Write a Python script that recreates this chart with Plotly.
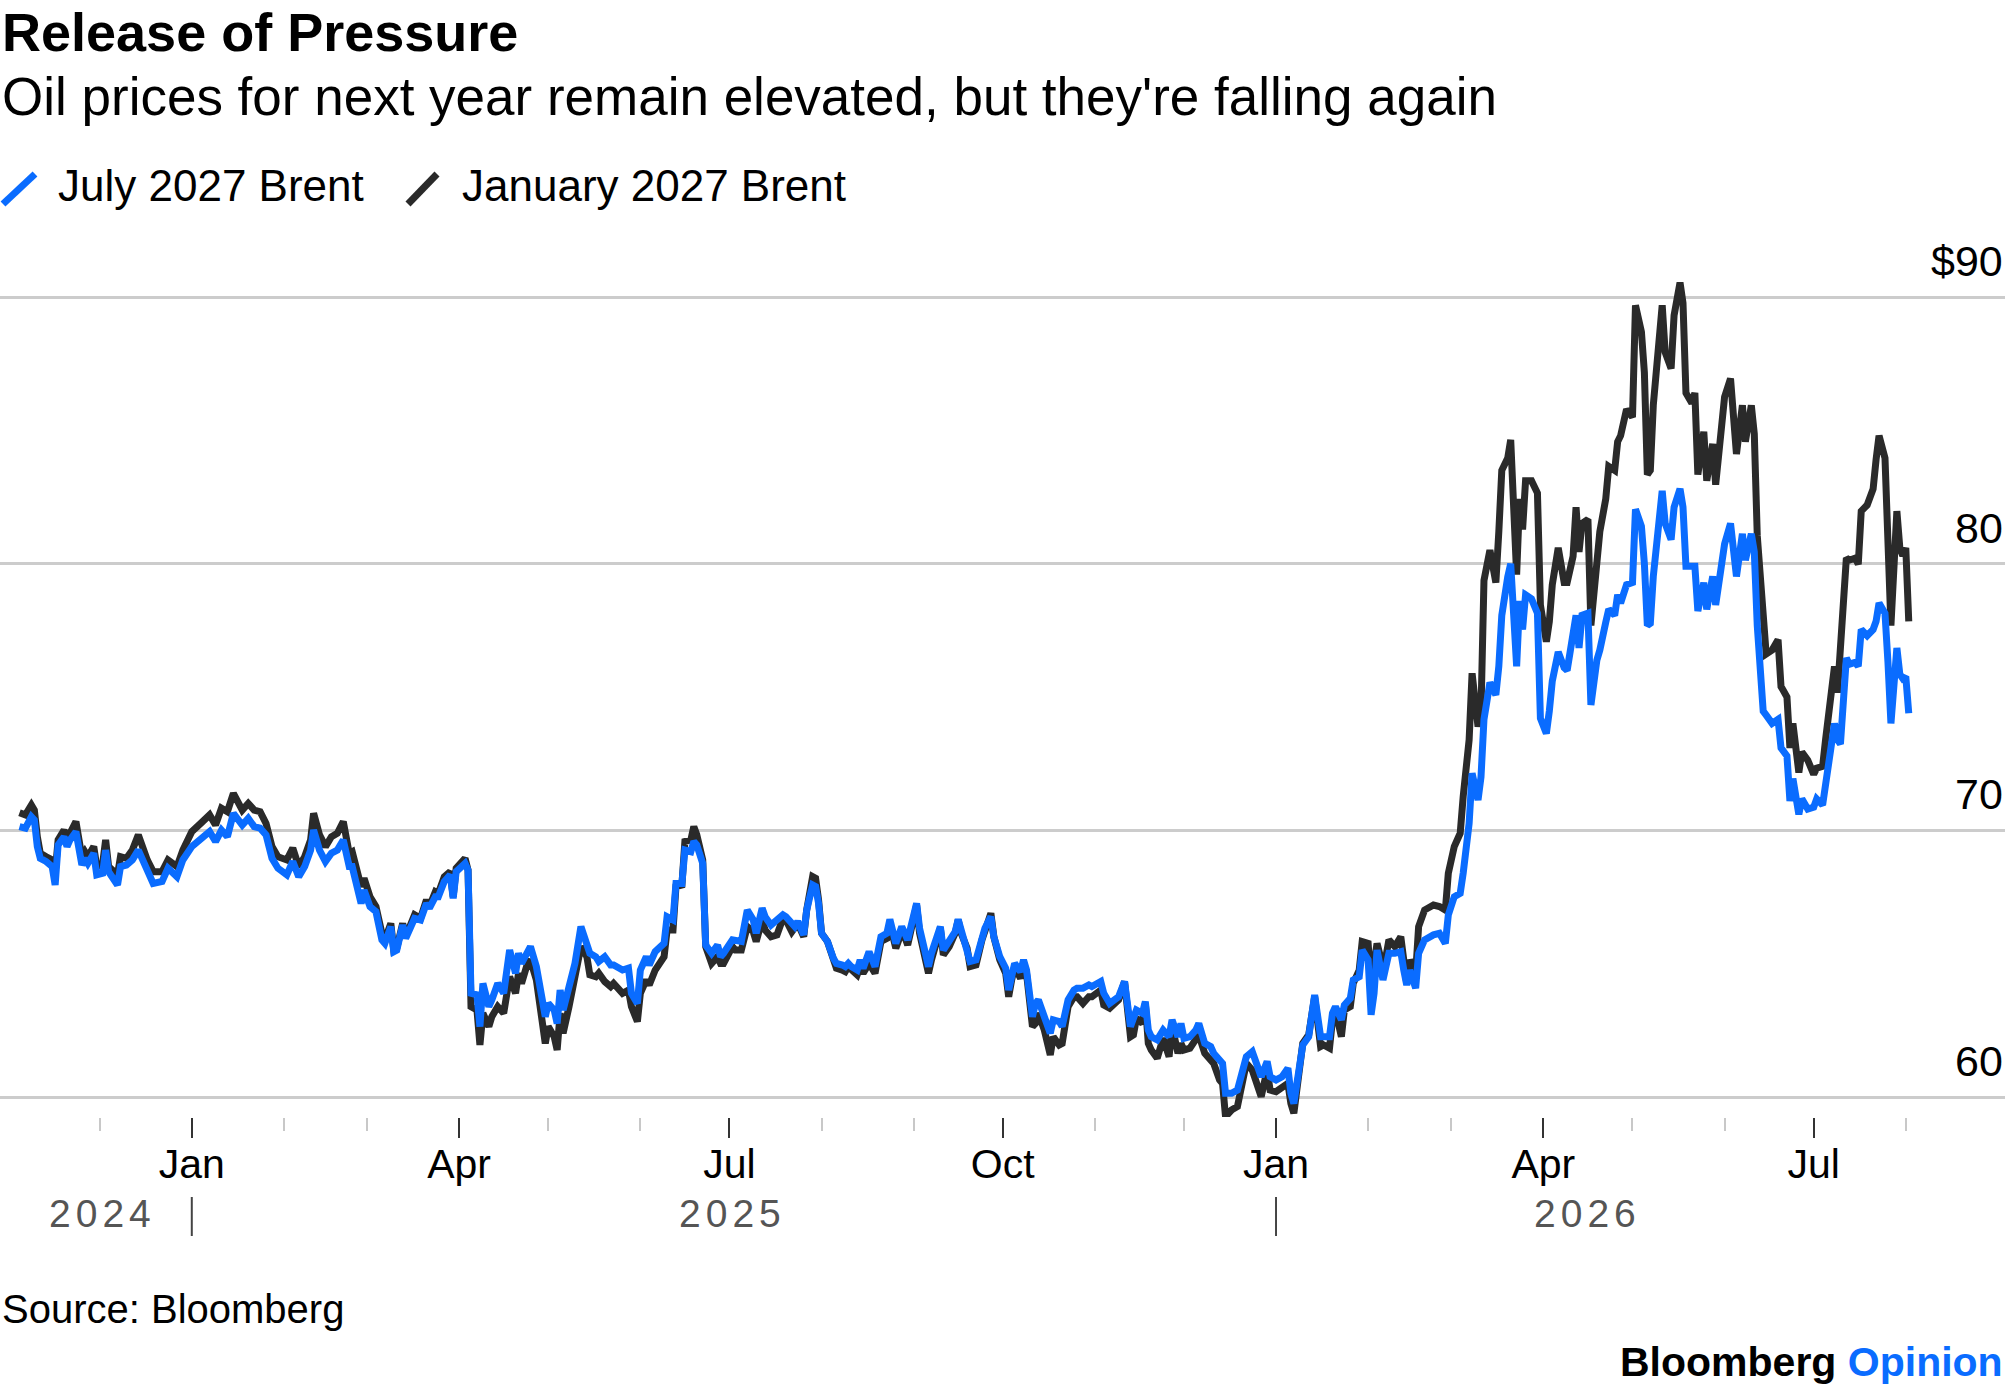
import plotly.graph_objects as go

# ---------------- data ----------------
dates = [
    "2024-11-04", "2024-11-06", "2024-11-08", "2024-11-09", "2024-11-10", "2024-11-11", "2024-11-13",
    "2024-11-15", "2024-11-16", "2024-11-17", "2024-11-19", "2024-11-20", "2024-11-21", "2024-11-23",
    "2024-11-25", "2024-11-26", "2024-11-27", "2024-11-29", "2024-11-30",
    "2024-12-02", "2024-12-03", "2024-12-04", "2024-12-07", "2024-12-08", "2024-12-10", "2024-12-12",
    "2024-12-14", "2024-12-15", "2024-12-17", "2024-12-19", "2024-12-22", "2024-12-24", "2024-12-27",
    "2024-12-29",
    "2025-01-01", "2025-01-04", "2025-01-07", "2025-01-09", "2025-01-11", "2025-01-13", "2025-01-15",
    "2025-01-18", "2025-01-20", "2025-01-22", "2025-01-24", "2025-01-26", "2025-01-28", "2025-01-30",
    "2025-02-02", "2025-02-04", "2025-02-06", "2025-02-08", "2025-02-10", "2025-02-11", "2025-02-13",
    "2025-02-15", "2025-02-17", "2025-02-19", "2025-02-21", "2025-02-23", "2025-02-24", "2025-02-27",
    "2025-02-28",
    "2025-03-02", "2025-03-04", "2025-03-06", "2025-03-07", "2025-03-09", "2025-03-10", "2025-03-11",
    "2025-03-13", "2025-03-14", "2025-03-17", "2025-03-19", "2025-03-21", "2025-03-22", "2025-03-24",
    "2025-03-25", "2025-03-27", "2025-03-29", "2025-03-30", "2025-03-31",
    "2025-04-02", "2025-04-03", "2025-04-04", "2025-04-05", "2025-04-07", "2025-04-08", "2025-04-09",
    "2025-04-11", "2025-04-12", "2025-04-14", "2025-04-16", "2025-04-18", "2025-04-20", "2025-04-21",
    "2025-04-22", "2025-04-24", "2025-04-25", "2025-04-27", "2025-04-30",
    "2025-05-01", "2025-05-03", "2025-05-04", "2025-05-05", "2025-05-06", "2025-05-08", "2025-05-10",
    "2025-05-12", "2025-05-14", "2025-05-15", "2025-05-17", "2025-05-18", "2025-05-20", "2025-05-22",
    "2025-05-23", "2025-05-26", "2025-05-28", "2025-05-29", "2025-05-31",
    "2025-06-01", "2025-06-03", "2025-06-04", "2025-06-06", "2025-06-08", "2025-06-09", "2025-06-10",
    "2025-06-12", "2025-06-13", "2025-06-15", "2025-06-16", "2025-06-18", "2025-06-19", "2025-06-20",
    "2025-06-22", "2025-06-23", "2025-06-25", "2025-06-27", "2025-06-28", "2025-06-29",
    "2025-07-02", "2025-07-03", "2025-07-05", "2025-07-07", "2025-07-09", "2025-07-10", "2025-07-12",
    "2025-07-13", "2025-07-15", "2025-07-17", "2025-07-19", "2025-07-20", "2025-07-22", "2025-07-23",
    "2025-07-24", "2025-07-26", "2025-07-27", "2025-07-29", "2025-07-30", "2025-07-31",
    "2025-08-01", "2025-08-03", "2025-08-05", "2025-08-06", "2025-08-08", "2025-08-09", "2025-08-10",
    "2025-08-11", "2025-08-13", "2025-08-14", "2025-08-15", "2025-08-17", "2025-08-19", "2025-08-21",
    "2025-08-23", "2025-08-24", "2025-08-26", "2025-08-27", "2025-08-28", "2025-08-30", "2025-08-31",
    "2025-09-02", "2025-09-03", "2025-09-06", "2025-09-07", "2025-09-09", "2025-09-10", "2025-09-11",
    "2025-09-13", "2025-09-15", "2025-09-16", "2025-09-17", "2025-09-19", "2025-09-20", "2025-09-22",
    "2025-09-24", "2025-09-25", "2025-09-27", "2025-09-28", "2025-09-30",
    "2025-10-02", "2025-10-03", "2025-10-04", "2025-10-05", "2025-10-07", "2025-10-08", "2025-10-09",
    "2025-10-11", "2025-10-12", "2025-10-13", "2025-10-15", "2025-10-17", "2025-10-18", "2025-10-20",
    "2025-10-21", "2025-10-23", "2025-10-25", "2025-10-26", "2025-10-28", "2025-10-30", "2025-10-31",
    "2025-11-03", "2025-11-04", "2025-11-06", "2025-11-09", "2025-11-11", "2025-11-13", "2025-11-14",
    "2025-11-15", "2025-11-17", "2025-11-18", "2025-11-19", "2025-11-20", "2025-11-22", "2025-11-24",
    "2025-11-26", "2025-11-27", "2025-11-29", "2025-11-30",
    "2025-12-01", "2025-12-03", "2025-12-05", "2025-12-06", "2025-12-08", "2025-12-10", "2025-12-11",
    "2025-12-13", "2025-12-14", "2025-12-15", "2025-12-17", "2025-12-19", "2025-12-20", "2025-12-22",
    "2025-12-24", "2025-12-26", "2025-12-27", "2025-12-29", "2025-12-30",
    "2026-01-01", "2026-01-03", "2026-01-05", "2026-01-06", "2026-01-07", "2026-01-09", "2026-01-10",
    "2026-01-12", "2026-01-14", "2026-01-16", "2026-01-17", "2026-01-19", "2026-01-20", "2026-01-21",
    "2026-01-23", "2026-01-24", "2026-01-26", "2026-01-27", "2026-01-29", "2026-01-30",
    "2026-02-01", "2026-02-02", "2026-02-03", "2026-02-04", "2026-02-06", "2026-02-07", "2026-02-08",
    "2026-02-10", "2026-02-12", "2026-02-13", "2026-02-14", "2026-02-15", "2026-02-17", "2026-02-18",
    "2026-02-20", "2026-02-23", "2026-02-25", "2026-02-27", "2026-02-28",
    "2026-03-02", "2026-03-04", "2026-03-05", "2026-03-07", "2026-03-08", "2026-03-10", "2026-03-11",
    "2026-03-12", "2026-03-14", "2026-03-16", "2026-03-17", "2026-03-18", "2026-03-20", "2026-03-21",
    "2026-03-23", "2026-03-24", "2026-03-25", "2026-03-26", "2026-03-28", "2026-03-30", "2026-03-31",
    "2026-04-02", "2026-04-03", "2026-04-04", "2026-04-06", "2026-04-08", "2026-04-09", "2026-04-11",
    "2026-04-12", "2026-04-13", "2026-04-14", "2026-04-16", "2026-04-17", "2026-04-19", "2026-04-20",
    "2026-04-22", "2026-04-23", "2026-04-25", "2026-04-26", "2026-04-27", "2026-04-29",
    "2026-05-01", "2026-05-02", "2026-05-04", "2026-05-05", "2026-05-06", "2026-05-07", "2026-05-08",
    "2026-05-10", "2026-05-11", "2026-05-12", "2026-05-14", "2026-05-15", "2026-05-17", "2026-05-18",
    "2026-05-19", "2026-05-21", "2026-05-22", "2026-05-23", "2026-05-25", "2026-05-26", "2026-05-28",
    "2026-05-29", "2026-05-31",
    "2026-06-01", "2026-06-03", "2026-06-04", "2026-06-05", "2026-06-07", "2026-06-08", "2026-06-10",
    "2026-06-11", "2026-06-12", "2026-06-14", "2026-06-15", "2026-06-17", "2026-06-19", "2026-06-20",
    "2026-06-22", "2026-06-23", "2026-06-24", "2026-06-26", "2026-06-27", "2026-06-29",
    "2026-07-01", "2026-07-02", "2026-07-04", "2026-07-05", "2026-07-08", "2026-07-09", "2026-07-10",
    "2026-07-12", "2026-07-13", "2026-07-15", "2026-07-16", "2026-07-17", "2026-07-19", "2026-07-21",
    "2026-07-22", "2026-07-23", "2026-07-25", "2026-07-26", "2026-07-27", "2026-07-29", "2026-07-30",
    "2026-07-31", "2026-08-01", "2026-08-02",
]

jan_2027_brent = [
    70.66, 70.58, 70.95, 70.76, 69.76, 69.14, 69.01,
    68.89, 68.39, 69.64, 70.01, 69.70, 69.89, 70.33,
    69.01, 69.20, 69.01, 69.39, 68.64,
    68.76, 69.64, 68.64, 68.33, 69.01, 68.95, 69.26,
    69.83, 69.51, 68.89, 68.45, 68.45, 68.89, 68.64,
    69.26,
    69.95, 70.26, 70.58, 70.20, 70.83, 70.70, 71.39,
    70.76, 71.01, 70.76, 70.70, 70.26, 69.39, 69.01,
    68.89, 69.33, 68.64, 69.01, 69.64, 70.64, 69.83,
    69.39, 69.76, 69.89, 70.33, 69.14, 69.20, 67.89,
    68.20,
    67.51, 67.14, 66.14, 65.89, 66.51, 65.51, 65.58,
    66.51, 66.01, 66.83, 66.70, 67.39, 67.14, 67.70,
    67.64, 68.26, 68.45, 67.51, 68.58,
    68.83, 68.95, 68.51, 63.39, 63.26, 61.95, 63.14,
    62.64, 63.01, 63.39, 63.14, 64.51, 63.89, 64.64,
    64.26, 65.01, 65.14, 64.39, 62.01,
    62.64, 62.26, 61.76, 63.14, 62.39, 63.39, 64.39,
    65.64, 65.26, 64.58, 64.51, 64.64, 64.33, 64.14,
    64.26, 63.89, 64.01, 63.39, 62.83,
    63.89, 64.39, 64.20, 64.76, 65.14, 65.26, 66.26,
    66.26, 67.89, 67.95, 69.58, 69.64, 70.14, 69.83,
    68.89, 65.64, 65.01, 65.26, 65.01, 65.01,
    65.64, 65.51, 65.51, 66.39, 66.20, 65.83, 66.64,
    66.26, 66.01, 66.08, 66.70, 66.64, 66.20, 66.33,
    66.51, 66.01, 67.01, 68.26, 68.20, 67.39,
    66.14, 65.83, 65.14, 64.83, 64.76, 64.70, 64.89,
    64.76, 64.58, 64.89, 64.64, 65.01, 64.64, 65.83,
    65.95, 66.51, 65.58, 65.89, 66.33, 65.70, 66.26,
    67.20, 66.14, 64.64, 65.14, 65.83, 66.33, 65.33,
    65.64, 66.14, 66.64, 66.14, 65.58, 64.89, 64.95,
    65.89, 66.20, 66.89, 66.01, 65.14,
    64.64, 63.76, 64.39, 64.89, 64.45, 65.01, 64.64,
    62.64, 62.76, 63.14, 62.51, 61.58, 62.26, 61.95,
    62.01, 63.39, 63.76, 63.76, 63.51, 63.76, 63.76,
    64.01, 63.45, 63.33, 63.64, 64.33, 62.26, 62.33,
    62.95, 62.76, 63.51, 62.01, 61.76, 61.45, 62.20,
    61.51, 62.64, 61.64, 62.01,
    61.76, 61.83, 62.14, 62.33, 61.64, 61.39, 61.26,
    60.64, 60.51, 59.26, 59.51, 59.64, 60.14, 61.26,
    61.01, 60.39, 60.01, 61.01, 60.26,
    60.20, 60.33, 60.51, 59.76, 59.39, 61.14, 62.01,
    62.33, 63.76, 61.89, 61.95, 61.83, 62.89, 63.26,
    62.26, 63.26, 63.39, 64.26, 64.76, 65.83,
    65.76, 64.26, 64.89, 65.76, 64.89, 65.26, 65.89,
    65.64, 66.01, 65.14, 64.26, 65.14, 64.64, 66.39,
    67.01, 67.20, 67.14, 67.01, 68.39,
    69.39, 69.89, 71.26, 73.39, 75.89, 73.89, 74.50,
    79.37, 80.51, 79.29, 81.20, 83.50, 83.96, 84.64,
    79.59, 82.43, 81.28, 83.11, 83.11, 82.65, 78.45,
    77.07, 77.83, 79.21, 80.59, 79.29, 79.29, 80.28,
    82.12, 80.44, 81.51, 81.66, 77.68, 79.98, 81.20,
    82.43, 83.65, 83.50, 84.57, 84.80, 85.79,
    85.49, 89.69, 88.70, 87.17, 83.34, 83.50, 85.94,
    88.24, 89.69, 87.93, 87.32, 89.31, 90.54, 89.77,
    86.40, 86.02, 86.40, 83.34, 84.95, 83.11, 84.49,
    82.96, 85.03,
    86.25, 86.94, 85.18, 84.11, 85.94, 84.57, 85.94,
    84.87, 81.05, 77.99, 76.61, 76.76, 77.15, 75.39,
    75.00, 73.09, 74.01, 72.17, 72.94, 72.63,
    72.10, 72.33, 72.40, 73.40, 76.15, 75.16, 76.61,
    80.21, 80.13, 80.21, 79.98, 81.97, 82.20, 82.80,
    83.90, 84.80, 83.96, 81.05, 77.68, 81.97, 80.59,
    80.30, 80.59, 77.84,
]

jul_2027_brent = [
    70.14, 70.08, 70.51, 70.39, 69.39, 68.95, 68.83,
    68.64, 67.95, 69.45, 69.76, 69.39, 69.64, 69.95,
    68.70, 68.95, 68.76, 69.14, 68.33,
    68.39, 69.26, 68.45, 67.95, 68.64, 68.70, 68.89,
    69.26, 69.01, 68.51, 68.01, 68.08, 68.58, 68.26,
    68.89,
    69.39, 69.64, 69.95, 69.58, 70.01, 69.76, 70.64,
    70.20, 70.45, 70.14, 70.08, 69.83, 68.95, 68.58,
    68.33, 68.83, 68.26, 68.64, 69.26, 70.01, 69.26,
    68.83, 69.14, 69.26, 69.64, 68.64, 68.64, 67.26,
    67.76,
    67.14, 66.95, 65.89, 65.76, 66.39, 65.45, 65.51,
    66.45, 65.95, 66.70, 66.64, 67.26, 67.08, 67.51,
    67.51, 68.08, 68.33, 67.45, 68.45,
    68.70, 68.76, 68.51, 63.89, 63.83, 62.64, 64.26,
    63.39, 63.64, 64.26, 63.89, 65.51, 64.64, 65.39,
    65.01, 65.51, 65.64, 64.89, 63.01,
    63.51, 63.26, 62.76, 64.01, 63.26, 64.26, 65.01,
    66.39, 65.83, 65.39, 65.26, 65.08, 65.26, 64.95,
    64.95, 64.76, 64.83, 63.89, 63.51,
    64.76, 65.26, 64.95, 65.45, 65.70, 65.76, 66.76,
    66.64, 68.01, 68.01, 69.26, 69.20, 69.58, 69.45,
    68.76, 65.70, 65.39, 65.70, 65.26, 65.39,
    65.89, 65.89, 65.83, 67.01, 66.64, 66.14, 67.08,
    66.76, 66.45, 66.64, 66.83, 66.76, 66.51, 66.39,
    66.58, 66.08, 67.01, 67.95, 67.89, 67.26,
    66.14, 65.83, 65.20, 65.01, 64.95, 64.89, 65.01,
    64.89, 64.76, 65.14, 64.83, 65.45, 64.89, 66.01,
    66.14, 66.66, 65.76, 66.08, 66.39, 65.89, 66.45,
    67.26, 66.33, 64.89, 65.39, 66.01, 66.39, 65.51,
    65.83, 66.20, 66.66, 66.26, 65.70, 65.08, 65.14,
    66.01, 66.33, 66.76, 66.01, 65.26,
    64.83, 64.01, 64.58, 65.01, 64.70, 65.14, 64.76,
    63.01, 63.50, 63.64, 63.01, 62.39, 62.89, 62.83,
    62.64, 63.64, 64.01, 64.08, 64.08, 64.20, 64.14,
    64.33, 63.89, 63.51, 63.76, 64.33, 62.64, 62.89,
    63.26, 63.14, 63.58, 62.51, 62.26, 62.14, 62.51,
    62.26, 62.89, 62.26, 62.76,
    62.20, 62.26, 62.51, 62.76, 62.01, 61.89, 61.64,
    61.39, 61.26, 60.14, 60.14, 60.26, 60.64, 61.51,
    61.70, 61.14, 60.76, 61.33, 60.76,
    60.64, 60.76, 61.08, 60.14, 59.76, 61.51, 61.95,
    62.26, 63.83, 62.26, 62.26, 62.26, 63.14, 63.39,
    62.89, 63.45, 63.70, 64.39, 64.51, 65.51,
    65.14, 63.08, 63.89, 65.51, 64.39, 65.01, 65.39,
    65.39, 65.45, 64.76, 64.20, 64.76, 64.08, 65.39,
    65.89, 66.08, 66.14, 65.76, 66.83,
    67.51, 67.64, 68.39, 70.26, 72.14, 71.14, 72.00,
    74.16, 75.54, 75.08, 76.15, 78.06, 79.50, 80.00,
    76.15, 78.60, 77.53, 78.83, 78.68, 78.14, 74.20,
    73.63, 74.47, 75.60, 76.69, 76.10, 76.00, 77.30,
    78.06, 76.84, 78.06, 78.14, 74.70, 76.38, 76.76,
    77.80, 78.29, 78.06, 78.83, 78.52, 79.21,
    79.29, 82.04, 81.40, 80.00, 77.68, 77.76, 79.52,
    81.81, 82.73, 81.51, 80.90, 82.12, 82.81, 82.12,
    79.90, 79.90, 79.90, 78.22, 79.29, 78.29, 79.52,
    78.45, 79.98,
    80.74, 81.51, 80.44, 79.52, 81.12, 80.13, 81.12,
    80.44, 77.68, 74.47, 74.32, 74.01, 74.16, 73.09,
    72.79, 71.10, 71.94, 70.60, 71.18, 70.80,
    70.87, 71.18, 70.95, 71.71, 74.01, 73.40, 73.24,
    76.46, 76.23, 76.30, 76.15, 77.53, 77.30, 77.53,
    77.84, 78.52, 78.14, 76.30, 74.01, 76.84, 75.85,
    75.69, 75.77, 74.39,
]

assert len(dates) == len(jan_2027_brent) == len(jul_2027_brent), (
    len(dates), len(jan_2027_brent), len(jul_2027_brent))

series_names = ["July 2027 Brent", "January 2027 Brent"]
series_colors = ["#0a6cff", "#2a2a2a"]

major_tick_dates = ["2025-01-01", "2025-04-01", "2025-07-01", "2025-10-01",
                    "2026-01-01", "2026-04-01", "2026-07-01"]
major_tick_labels = ["Jan", "Apr", "Jul", "Oct", "Jan", "Apr", "Jul"]
minor_tick_dates = ["2024-12-01", "2025-02-01", "2025-03-01", "2025-05-01", "2025-06-01",
                    "2025-08-01", "2025-09-01", "2025-11-01", "2025-12-01", "2026-02-01",
                    "2026-03-01", "2026-05-01", "2026-06-01", "2026-08-01"]

year_labels = ["2024", "2025", "2026"]
year_label_dates = ["2024-12-02", "2025-07-02", "2026-04-16"]
year_divider_dates = ["2025-01-01", "2026-01-01"]

y_tick_values = [60, 70, 80, 90]
y_tick_labels = ["60", "70", "80", "$90"]

title_text = "Release of Pressure"
subtitle_text = "Oil prices for next year remain elevated, but they're falling again"
source_text = "Source: Bloomberg"

# ---------------- layout geometry ----------------
W, H = 2005, 1392
PLOT_TOP, PLOT_BOTTOM = 250, 1117
FONT = "Liberation Sans, Arial, Helvetica, sans-serif"


def py(y_px):
    """pixel row -> paper y"""
    return (PLOT_BOTTOM - y_px) / (PLOT_BOTTOM - PLOT_TOP)


def px(x_px):
    return x_px / W


fig = go.Figure()
# January drawn first, July on top
fig.add_trace(go.Scatter(x=dates, y=jan_2027_brent, mode="lines", name=series_names[1],
                         line=dict(color=series_colors[1], width=7), showlegend=False,
                         hoverinfo="skip"))
fig.add_trace(go.Scatter(x=dates, y=jul_2027_brent, mode="lines", name=series_names[0],
                         line=dict(color=series_colors[0], width=7), showlegend=False,
                         hoverinfo="skip"))

annotations = []
shapes = []

# title / subtitle
annotations.append(dict(text=f"<b>{title_text}</b>", x=0, xref="paper", xanchor="left",
                        y=py(32), yref="paper", yanchor="middle", showarrow=False,
                        font=dict(family=FONT, size=54, color="#000000")))
annotations.append(dict(text=subtitle_text, x=0, xref="paper", xanchor="left",
                        y=py(96), yref="paper", yanchor="middle", showarrow=False,
                        font=dict(family=FONT, size=53, color="#000000")))

# legend (slash markers + labels)
legend_marker_x = [(3, 35), (408, 437)]
legend_text_x = [56, 460]
for name, color, (x0, x1), tx in zip(series_names, series_colors, legend_marker_x, legend_text_x):
    shapes.append(dict(type="line", xref="paper", yref="paper",
                       x0=px(x0), x1=px(x1), y0=py(204), y1=py(174),
                       line=dict(color=color, width=7)))
    annotations.append(dict(text=name, x=px(tx), xref="paper", xanchor="left",
                            y=py(185), yref="paper", yanchor="middle", showarrow=False,
                            font=dict(family=FONT, size=44, color="#000000")))

# y tick labels above the gridlines, right aligned
for v, lab in zip(y_tick_values, y_tick_labels):
    annotations.append(dict(text=lab, x=1, xref="paper", xanchor="right",
                            y=v, yref="y", yanchor="middle", yshift=36, showarrow=False,
                            font=dict(family=FONT, size=43, color="#000000")))

# year labels and dividers
for lab, d in zip(year_labels, year_label_dates):
    annotations.append(dict(text=f"<span style='letter-spacing:5px'>{lab}</span>",
                            x=d, xref="x", xanchor="center",
                            y=py(1213), yref="paper", yanchor="middle", showarrow=False,
                            font=dict(family=FONT, size=39, color="#555555")))
for d in year_divider_dates:
    shapes.append(dict(type="line", xref="x", yref="paper", x0=d, x1=d,
                       y0=py(1197), y1=py(1236), line=dict(color="#444444", width=2)))

# source and branding
annotations.append(dict(text=source_text, x=0, xref="paper", xanchor="left",
                        y=py(1309), yref="paper", yanchor="middle", showarrow=False,
                        font=dict(family=FONT, size=40, color="#000000")))
annotations.append(dict(text="<b>Bloomberg</b> <b><span style='color:#0a6cff'>Opinion</span></b>",
                        x=1, xref="paper", xanchor="right",
                        y=py(1362), yref="paper", yanchor="middle", showarrow=False,
                        font=dict(family=FONT, size=41, color="#000000")))

y_min = 60 - (PLOT_BOTTOM - 1097) / 26.667
y_max = 90 + (297 - PLOT_TOP) / 26.667

fig.update_layout(
    width=W, height=H,
    margin=dict(l=0, r=0, t=PLOT_TOP, b=H - PLOT_BOTTOM, pad=0),
    paper_bgcolor="#ffffff", plot_bgcolor="#ffffff",
    font=dict(family=FONT, color="#000000"),
    showlegend=False,
    annotations=annotations,
    shapes=shapes,
    xaxis=dict(
        type="date",
        range=["2024-10-28 10:30", "2026-09-03 09:36"],
        tickmode="array", tickvals=major_tick_dates, ticktext=major_tick_labels,
        ticks="outside", ticklen=20, tickwidth=2, tickcolor="#333333",
        ticklabelstandoff=-9,
        tickfont=dict(family=FONT, size=41, color="#000000"),
        showgrid=False, showline=False, zeroline=False, automargin=False,
        minor=dict(tickmode="array", tickvals=minor_tick_dates, ticks="outside",
                   ticklen=13, tickwidth=2, tickcolor="#c8c8c8", showgrid=False),
        fixedrange=True,
    ),
    yaxis=dict(
        range=[y_min, y_max],
        tickmode="array", tickvals=y_tick_values,
        showticklabels=False, ticks="",
        showgrid=True, gridcolor="#cccccc", gridwidth=2.5,
        zeroline=False, showline=False, automargin=False, fixedrange=True,
    ),
)

fig.write_html("out.html", config={"displayModeBar": False},
               post_script="document.body.style.margin='0';document.body.style.overflow='hidden';")
